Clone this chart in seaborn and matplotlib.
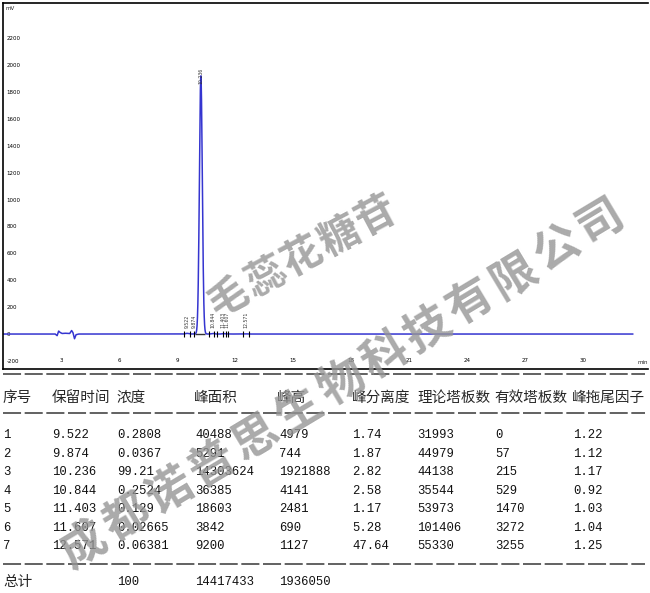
import numpy as np
import pandas as pd
import matplotlib
matplotlib.use("Agg")
import matplotlib.pyplot as plt
from matplotlib.lines import Line2D
import seaborn as sns

# ---------------- data ----------------
peak_no = [1, 2, 3, 4, 5, 6, 7]
ret_time = [9.522, 9.874, 10.236, 10.844, 11.403, 11.607, 12.571]
conc = ["0.2808", "0.0367", "99.21", "0.2524", "0.129", "0.02665", "0.06381"]
area = [40488, 5291, 14303624, 36385, 18603, 3842, 9200]
height_uv = [4979, 744, 1921888, 4141, 2481, 690, 1127]
resolution = ["1.74", "1.87", "2.82", "2.58", "1.17", "5.28", "47.64"]
plates = [31993, 44979, 44138, 35544, 53973, 101406, 55330]
eff_plates = [0, 57, 215, 529, 1470, 3272, 3255]
tailing = ["1.22", "1.12", "1.17", "0.92", "1.03", "1.04", "1.25"]
total_conc = "100"
total_area = 14417433
total_height = 1936050

headers = ["序号", "保留时间", "浓度", "峰面积", "峰高", "峰分离度", "理论塔板数", "有效塔板数", "峰拖尾因子"]

# baseline disturbance near 3 min
noise_t = [2.70, 2.80, 2.88, 2.95, 3.05, 3.20, 3.45, 3.55, 3.62, 3.70, 3.78, 3.90]
noise_mv = [0, -12, 22, 12, 4, 6, 4, 26, 10, -35, -5, 0]
# integration start/end markers
marker_t = [9.36, 9.67, 9.88, 10.67, 10.93, 11.07, 11.37, 11.52, 11.66, 12.43, 12.73]
run_end = 32.6
peak_sigma = 0.075

x_ticks = [3, 6, 9, 12, 15, 18, 21, 24, 27, 30]
y_ticks = list(range(-200, 2201, 200))

watermark_1 = "毛蕊花糖苷"
watermark_2 = "成都诺普思生物科技有限公司"

# ---------------- trace ----------------
t = np.arange(0, run_end, 0.01)
signal = np.interp(t, noise_t, noise_mv, left=0, right=0)
for rt, h in zip(ret_time, height_uv):
    signal = signal + (h / 1000.0) * np.exp(-0.5 * ((t - rt) / peak_sigma) ** 2)
trace = pd.DataFrame({"time": t, "mV": signal})

# ---------------- figure ----------------
sns.set_theme(style="white")
plt.rcParams["font.family"] = ["DejaVu Sans"]
W, H = 650, 593
fig = plt.figure(figsize=(W / 100, H / 100), dpi=100)
ax = fig.add_axes([3 / W, 1 - 369 / H, 645 / W, 366 / H])

ax.hlines(0, 9.93, 10.45, color="#333333", lw=1.0, zorder=1)
sns.lineplot(data=trace, x="time", y="mV", ax=ax, color="#3535d0", lw=1.1,
             estimator=None, sort=False, zorder=2)
ax.vlines(marker_t, -22, 22, color="black", lw=0.8, zorder=3)

for rt, h in zip(ret_time, height_uv):
    ax.annotate(f"{rt}", (rt, h / 1000.0),
                xytext=(0, 4 if h < 100000 else -6), textcoords="offset points",
                rotation=90, ha="center", va="bottom", fontsize=3.3, color="#333333")

ax.set_xlim(0, 645 / 19.33)
ax.set_ylim(-260, 2461)
ax.set_xlabel("")
ax.set_ylabel("")
ax.set_xticks(x_ticks)
ax.set_xticklabels([str(v) for v in x_ticks])
ax.set_yticks(y_ticks)
ax.set_yticklabels([str(v) for v in y_ticks])
ax.tick_params(axis="both", direction="in", length=2.5, width=0.7, labelsize=4,
               colors="black")
ax.tick_params(axis="x", pad=-8)
ax.tick_params(axis="y", pad=-2.5)
plt.setp(ax.get_yticklabels(), ha="left")

for s in ["left", "top", "bottom"]:
    ax.spines[s].set_color("black")
    ax.spines[s].set_linewidth(1.2)
ax.spines["right"].set_visible(False)

ax.text(2 / 645, 1 - 6 / 366, "mV", transform=ax.transAxes, fontsize=4,
        ha="left", va="center")
ax.text(0.992, 7 / 366, "min", transform=ax.transAxes, fontsize=4,
        ha="center", va="center")

# ---------------- table ----------------
cjk = ["Noto Sans CJK SC", "DejaVu Sans"]
mono = ["Liberation Mono", "DejaVu Sans Mono"]


def px(x, y):
    return x / W, 1 - y / H


def hline(y):
    fig.add_artist(Line2D([3 / W, 645 / W], [1 - y / H, 1 - y / H],
                          transform=fig.transFigure, color="#555555", lw=1.3,
                          linestyle=(0, (10, 2))))


hline(374)
hline(413)
hline(564)

col_x = [3, 52, 117, 195, 279, 352, 417, 495, 573]
head_x = [3, 52, 117, 194, 277, 352, 417, 494, 572]
for hx, name in zip(head_x, headers):
    fig.text(*px(hx, 398), name, family=cjk, fontsize=10.5, ha="left", va="center")

row_y = [435, 454, 472, 491, 509, 528, 546]
for i in range(len(peak_no)):
    vals = [str(peak_no[i]), f"{ret_time[i]}", conc[i], str(area[i]), str(height_uv[i]),
            resolution[i], str(plates[i]), str(eff_plates[i]), tailing[i]]
    for cx, v in zip(col_x, vals):
        fig.text(*px(cx, row_y[i]), v, family=mono, fontsize=8.8, ha="left",
                 va="center", color="#111111")

fig.text(*px(3, 582), "总计", family=cjk, fontsize=10.5, ha="left", va="center")
for cx, v in zip([117, 195, 279], [total_conc, str(total_area), str(total_height)]):
    fig.text(*px(cx, 582), v, family=mono, fontsize=8.8, ha="left", va="center",
             color="#111111")


# ---------------- watermarks ----------------
def watermark(text, start, end, size, rot):
    n = len(text)
    for k, ch in enumerate(text):
        f = k / (n - 1)
        xk = start[0] + (end[0] - start[0]) * f
        yk = start[1] + (end[1] - start[1]) * f
        fig.text(*px(xk, yk), ch, family=cjk, fontsize=size, weight="bold",
                 color="#959595", alpha=0.8, rotation=rot, ha="center",
                 va="center", rotation_mode="anchor", zorder=10)


watermark(watermark_1, (229, 298), (376, 216), 29, 28)
watermark(watermark_2, (84, 546), (600, 222), 33, 31)

fig.savefig("out.png", dpi=100)
